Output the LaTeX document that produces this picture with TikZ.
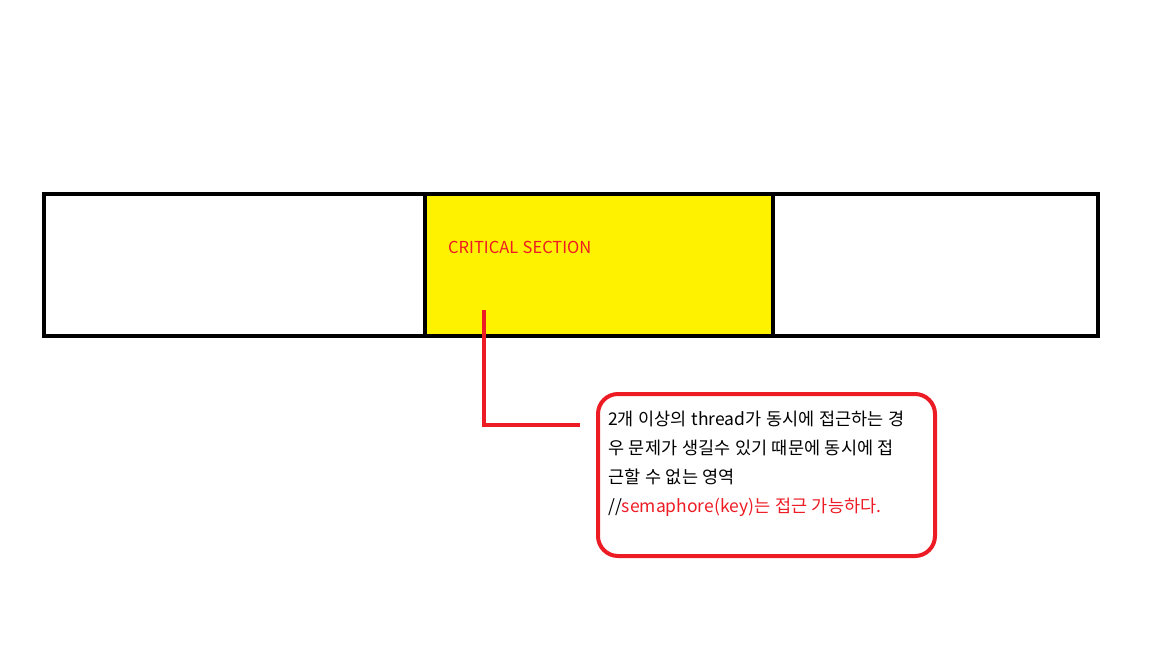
\documentclass[tikz,border=0pt]{standalone}
\usepackage{fontspec}
\setmainfont{Noto Sans CJK KR}
\newfontfamily\kr{Noto Sans CJK KR}
\newfontfamily\krw[WordSpace=1.2]{Noto Sans CJK KR}
\definecolor{pyellow}{RGB}{255,242,0}
\definecolor{pred}{RGB}{237,28,36}
\begin{document}
\begin{tikzpicture}[x=1pt,y=-1pt,
  bar/.style={draw=black,line width=4pt},
  redline/.style={draw=pred,line width=4pt},
  txt/.style={anchor=base west,inner sep=0pt,font=\krw\fontsize{17.5}{20}\selectfont}]
\useasboundingbox (0,0) rectangle (1152,648);
\fill[pyellow] (425,194) rectangle (773,336);
\draw[bar] (44,194) rectangle (1098,336);
\draw[bar] (425,194) -- (425,338);
\draw[bar] (773,194) -- (773,336);
\node[anchor=base west,inner sep=0pt,font=\kr\fontsize{16.5}{20}\selectfont,text=pred] (cs) at (448,253) {CRITICAL SECTION};
\coordinate (p0) at (484,310);
\coordinate (p1) at (484,425);
\node[draw=pred,line width=4pt,rounded corners=20pt,minimum width=337pt,minimum height=162pt,anchor=north west,inner sep=0pt] (box) at (596,392) {};
\coordinate (p2) at (580,425);
\draw[redline] (p0) -- (p1) -- (p2);
\node[txt] (l1) at (608,425) {2개 이상의 thread가 동시에 접근하는 경};
\node[txt] (l2) at (608,454) {우 문제가 생길수 있기 때문에 동시에 접};
\node[txt] (l3) at (608,483) {근할 수 없는 영역};
\node[txt] (l4) at (608,512) {//\textcolor{pred}{semaphore(key)는 접근 가능하다.}};
\end{tikzpicture}
\end{document}
